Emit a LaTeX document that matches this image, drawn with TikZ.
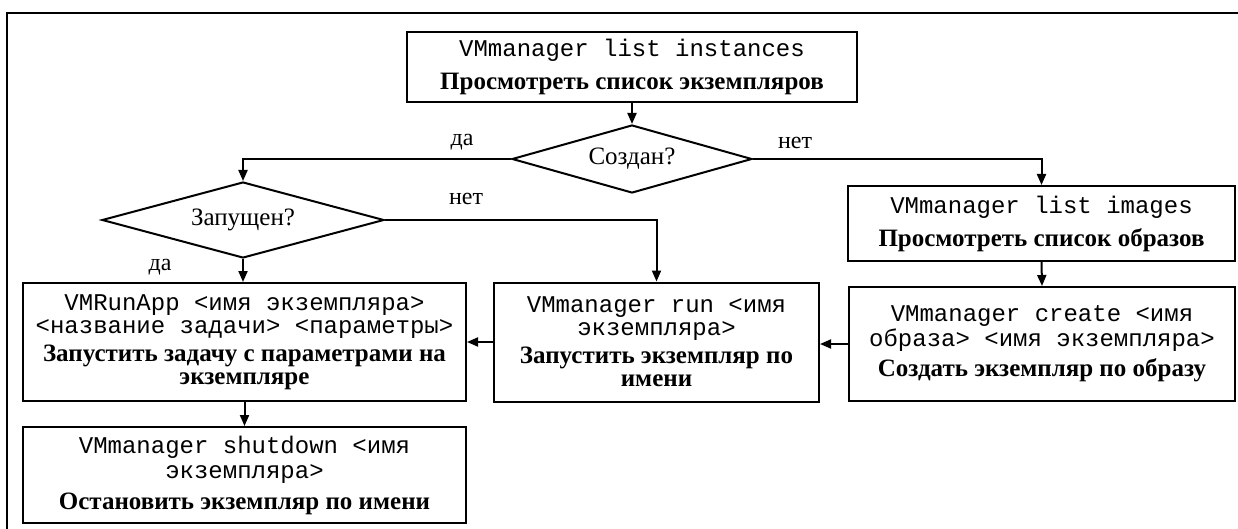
\documentclass[tikz,border=0pt]{standalone}
\usepackage{fontspec}
\setmainfont{Liberation Serif}
\setmonofont{Liberation Mono}
\usetikzlibrary{positioning, arrows.meta, shapes.geometric}

\newcommand{\vmcmd}[1]{{\mdseries\ttfamily\fontsize{24}{23}\selectfont #1}}

\begin{document}
\begin{tikzpicture}[x=1pt, y=-1pt,
  >={Triangle[length=11pt, width=9pt]},
  box/.style={draw, line width=2pt, align=center, inner sep=0pt,
    font=\fontsize{25}{23}\selectfont\bfseries},
  cond/.style={draw, diamond, shape aspect=3.5, line width=2pt,
    inner sep=0pt, font=\fontsize{25}{23}\selectfont},
  lbl/.style={font=\fontsize{24}{23}\selectfont},
  arr/.style={->, line width=2pt},
]

\useasboundingbox (0,0) rectangle (1238,529);

% --- outer frame (only top and left edges show) ---
\draw[line width=2pt] (7,529) -- (7,13) -- (1238,13);

% --- boxes ---
\node[box, minimum width=450pt, minimum height=70pt] (lsinst) at (632,67)
  {\vmcmd{VMmanager list instances}\\[10pt]
   Просмотреть список экземпляров};

\node[cond, minimum width=240pt, minimum height=68pt] (created) at (632,159)
  {Создан?};

\node[box, minimum width=387pt, minimum height=75pt] (lsimg) at (1041.5,223.5)
  {\vmcmd{VMmanager list images}\\[10pt]
   Просмотреть список образов};

\node[cond, minimum width=282pt, minimum height=76pt] (running) at (243,220)
  {Запущен?};

\node[box, minimum width=443pt, minimum height=118pt] (runapp) at (244.5,342)
  {\vmcmd{VMRunApp <имя экземпляра>}\\
   \vmcmd{<название задачи> <параметры>}\\[5pt]
   Запустить задачу с параметрами на\\
   экземпляре};

\node[box, minimum width=325pt, minimum height=119pt] (run) at (656.5,342)
  {\vmcmd{VMmanager run <имя}\\
   \vmcmd{экземпляра>}\\[5pt]
   Запустить экземпляр по\\
   имени};

\node[box, minimum width=386pt, minimum height=114pt] (create) at (1042,344)
  {\vmcmd{VMmanager create <имя}\\[2pt]
   \vmcmd{образа> <имя экземпляра>}\\[7pt]
   Создать экземпляр по образу};

\node[box, minimum width=443pt, minimum height=96pt] (shutdown) at (244.5,475)
  {\vmcmd{VMmanager shutdown <имя}\\[2pt]
   \vmcmd{экземпляра>}\\[8pt]
   Остановить экземпляр по имени};

% --- branch labels ---
\node[lbl] (yes1) at (462,142) {да};
\node[lbl] (no1)  at (795,143) {нет};
\node[lbl] (no2)  at (466,199) {нет};
\node[lbl] (yes2) at (160,267) {да};

% --- connectors ---
\draw[arr] (lsinst.south) -- (created.north);
\draw[arr] (created.west) -| (running.north);
\draw[arr] (created.east) -| (lsimg.north);
\draw[arr] (running.east) -| (run.north);
\draw[arr] (running.south) -- (running.south |- runapp.north);
\draw[arr] (lsimg.south) -- (create.north);
\draw[arr] (create.west) -- (create.west -| run.east);
\draw[arr] (run.west) -- (run.west -| runapp.east);
\draw[arr] (runapp.south) -- (runapp.south |- shutdown.north);

\end{tikzpicture}
\end{document}
